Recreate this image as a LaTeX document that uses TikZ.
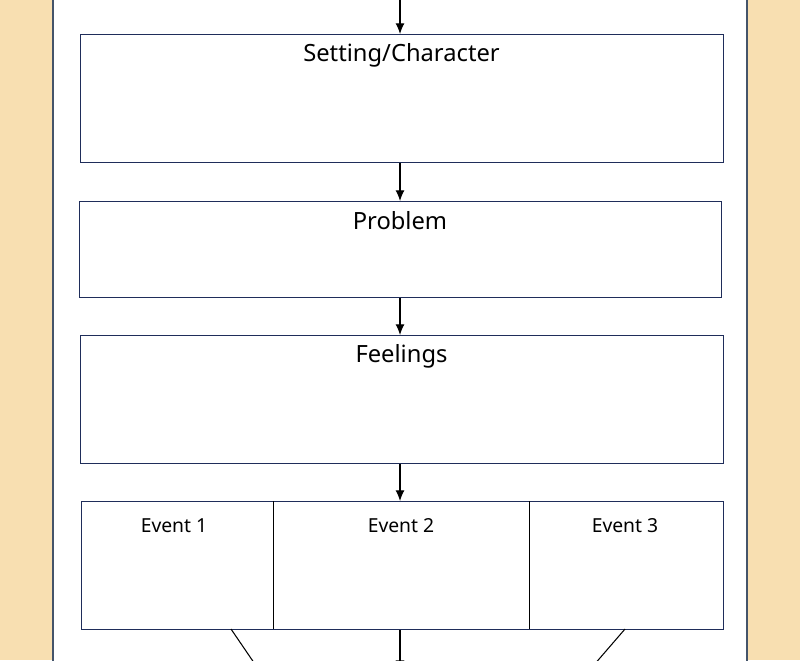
\documentclass[tikz,border=0pt]{standalone}
\usepackage{fontspec}
\setmainfont{Noto Sans}
\usetikzlibrary{positioning}
\definecolor{tan}{HTML}{F8DFB1}
\definecolor{boxline}{HTML}{1F2D5A}
\definecolor{panelline}{HTML}{44546A}
\tikzset{
  block/.style={draw=boxline, fill=white, line width=0.8pt, inner sep=0pt, anchor=north west},
  ttl/.style={font=\fontsize{13.5}{16}\selectfont, anchor=center},
  evttl/.style={font=\fontsize{11}{13}\selectfont, anchor=center},
  link/.style={-{Latex[length=6pt,width=5pt]}, black, line width=0.6pt}
}
\usetikzlibrary{arrows.meta}
\begin{document}
\begin{tikzpicture}[x=0.02cm,y=-0.02cm]
\useasboundingbox (0,0) rectangle (800,660);
\clip (0,0) rectangle (800,660);
\fill[tan] (0,0) rectangle (800,660);
\draw[panelline, fill=white, line width=1pt] (53,-5) rectangle (747,670);
% boxes
\node[block, minimum width=12.86cm, minimum height=2.56cm] (setting) at (80,34) {};
\node[ttl] at (401.5,55) {Setting/Character};
\node[block, minimum width=12.84cm, minimum height=1.92cm] (problem) at (79,201) {};
\node[ttl] at (400,221) {Problem};
\node[block, minimum width=12.86cm, minimum height=2.56cm] (feelings) at (80,335) {};
\node[ttl] at (401.5,356) {Feelings};
\node[block, minimum width=3.84cm, minimum height=2.56cm] (ev1) at (81,501) {};
\node[block, minimum width=5.12cm, minimum height=2.56cm] (ev2) at (273,501) {};
\node[block, minimum width=3.88cm, minimum height=2.56cm] (ev3) at (529,501) {};
\draw (273,501) -- (273,629);
\draw (529,501) -- (529,629);
\node[evttl] at (174,526) {Event 1};
\node[evttl] at (401,526) {Event 2};
\node[evttl] at (625,526) {Event 3};
% connectors
\coordinate (top) at (400,-2);
\coordinate (out1) at (261,673);
\coordinate (out2) at (400,671);
\coordinate (out3) at (587,673);
\draw[link] (top) -- (top |- setting.north);
\draw[link] (top |- setting.south) -- (top |- problem.north);
\draw[link] (top |- problem.south) -- (top |- feelings.north);
\draw[link] (top |- feelings.south) -- (top |- ev2.north);
\draw[link] (231,629) -- (out1);
\draw[link] (top |- ev2.south) -- (out2);
\draw[link] (625,629) -- (out3);
\end{tikzpicture}
\end{document}
